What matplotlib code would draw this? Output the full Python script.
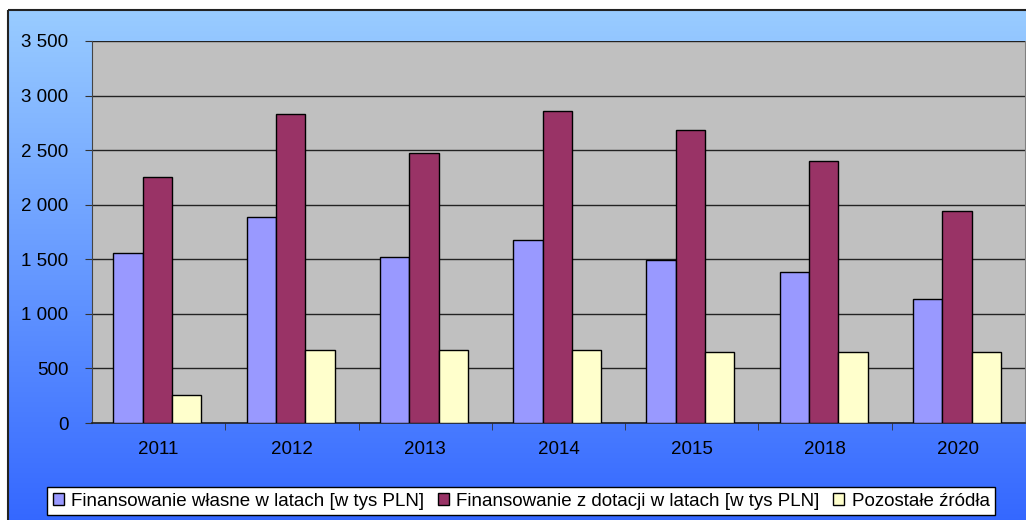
import matplotlib.pyplot as plt
import numpy as np
from matplotlib.patches import Rectangle
from matplotlib.ticker import FuncFormatter, MultipleLocator

plt.rcParams['font.family'] = ['Liberation Sans', 'DejaVu Sans']

years = ['2011', '2012', '2013', '2014', '2015', '2018', '2020']
own = [1560, 1890, 1520, 1680, 1490, 1380, 1140]
grants = [2250, 2830, 2470, 2860, 2680, 2400, 1940]
other = [255, 665, 665, 665, 650, 650, 650]
labels = ['Finansowanie własne w latach [w tys PLN]',
          'Finansowanie z dotacji w latach [w tys PLN]',
          'Pozostałe źródła']
colors = ['#9999FF', '#993366', '#FFFFCC']

W, H = 1026, 520
fig = plt.figure(figsize=(W / 100, H / 100), dpi=100)
fig.patch.set_facecolor('white')

# background frame with a vertical gradient
bg = fig.add_axes([0, 0, 1, 1])
bg.set_xlim(0, W)
bg.set_ylim(H, 0)
bg.axis('off')
top = np.array([153, 204, 255]) / 255
bottom = np.array([51, 102, 255]) / 255
t = np.linspace(0, 1, 256)[:, None]
grad = (top[None, :] * (1 - t) + bottom[None, :] * t)[:, None, :]
bg.imshow(grad, extent=(8, W + 10, H + 10, 10), aspect='auto', zorder=0)
bg.add_patch(Rectangle((8, 10), W, H, fill=False, edgecolor='#222222', lw=1.5, zorder=1))

# plot area
left, right, ptop, pbot = 92, 1025, 41, 423
ax = fig.add_axes([left / W, (H - pbot) / H, (right - left) / W, (pbot - ptop) / H])
ax.set_facecolor('#C0C0C0')

x = np.arange(len(years))
bw = 0.22
for i, (vals, c, lab) in enumerate(zip([own, grants, other], colors, labels)):
    ax.bar(x + (i - 1) * bw - 0.01, vals, bw, color=c, edgecolor='black', linewidth=1, label=lab, zorder=3)

ax.set_xlim(-0.5, len(years) - 0.5)
ax.set_ylim(0, 3500)
ax.yaxis.set_major_locator(MultipleLocator(500))
ax.yaxis.set_major_formatter(FuncFormatter(lambda v, p: f'{int(v):,}'.replace(',', ' ')))
ax.grid(axis='y', color='#222222', linewidth=1, zorder=1)
ax.set_axisbelow(True)

ax.set_xticks(x)
ax.set_xticklabels(years)
ax.set_xticks(np.arange(0.5, len(years) - 0.5), minor=True)
ax.tick_params(axis='x', which='major', length=0, pad=13, labelsize=13.5)
ax.tick_params(axis='x', which='minor', length=5, direction='out', color='#333333')
ax.tick_params(axis='y', length=5, direction='out', pad=12, labelsize=13.5, color='#333333')

ax.spines['top'].set_visible(False)
ax.spines['right'].set_color('#808080')
ax.spines['left'].set_color('#444444')
ax.spines['bottom'].set_color('#222222')
ax.spines['bottom'].set_linewidth(1.2)

leg = fig.legend(loc='center', bbox_to_anchor=(521 / W, 1 - 501 / H), ncol=3,
                 fontsize=13.5, frameon=True, fancybox=False, edgecolor='black',
                 facecolor='white', framealpha=1, handlelength=0.6, handleheight=0.6,
                 handletextpad=0.4, columnspacing=0.7, borderpad=0.3)
leg.get_frame().set_linewidth(1)

fig.savefig('out.png', dpi=100)
